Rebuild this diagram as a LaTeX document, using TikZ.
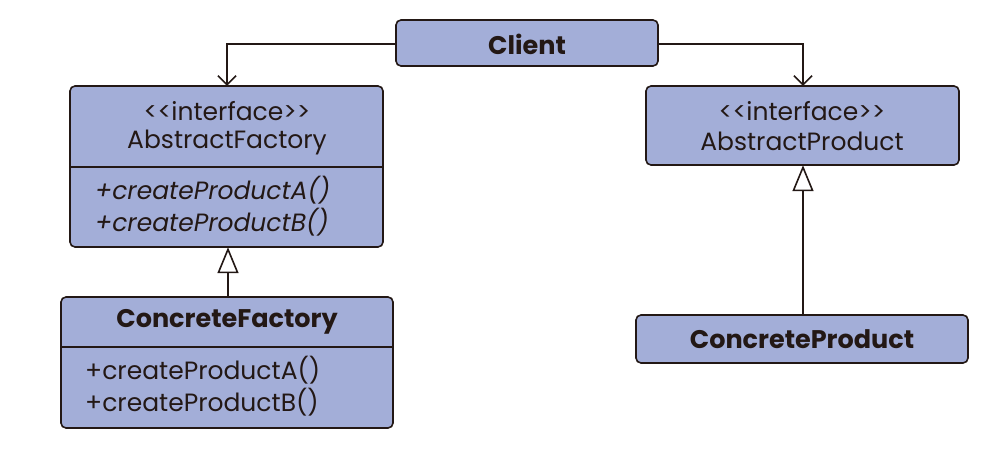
\documentclass[tikz,border=0pt]{standalone}
\usepackage{fontspec}
\setmainfont{Poppins}
\usetikzlibrary{arrows.meta}
\definecolor{boxfill}{HTML}{A3AED8}
\definecolor{ink}{HTML}{231815}
\newcommand{\guil}[1]{<\kern0pt<#1>\kern0pt>}
\begin{document}
\begin{tikzpicture}[x=1pt,y=-1pt,
  umlbox/.style={draw=ink,fill=boxfill,line width=1.6pt,rounded corners=5pt},
  txt/.style={inner sep=0pt,text=ink,font=\fontsize{25}{30}\selectfont},
  bold/.style={txt,font=\fontsize{25.5}{30}\selectfont\bfseries},
  meth/.style={txt,anchor=west},
  wire/.style={draw=ink,line width=1.6pt},
  uses/.style={wire,-{Straight Barb[length=9pt,width=18pt,line width=1.6pt]}},
  inherits/.style={wire,-{Triangle[open,length=26pt,width=21pt,line width=1.6pt,fill=white]}}]
\useasboundingbox (0,0) rectangle (1006,460);

% boxes
\draw[umlbox] (396,20) rectangle (658,66);
\node (client) at (527,43) [minimum width=262pt,minimum height=46pt,inner sep=0pt] {};
\node[bold] at (527,44) {Client};

\draw[umlbox] (70,86) rectangle (383,247);
\draw[draw=ink,line width=1.6pt] (70,167) -- (383,167);
\node (af) at (226.5,166.5) [minimum width=313pt,minimum height=161pt,inner sep=0pt] {};
\node[txt] at (227,111) {\guil{interface}};
\node[txt] at (227,142) {AbstractFactory};
\node[meth] at (95,190) {\itshape +createProductA()};
\node[meth] at (95,222) {\itshape +createProductB()};

\draw[umlbox] (646,86) rectangle (959,165);
\node (ap) at (802.5,125.5) [minimum width=313pt,minimum height=79pt,inner sep=0pt] {};
\node[txt] at (802,111) {\guil{interface}};
\node[txt] at (802,141) {AbstractProduct};

\draw[umlbox] (61,297) rectangle (393,428);
\draw[draw=ink,line width=1.6pt] (61,347) -- (393,347);
\node (cf) at (227,362.5) [minimum width=332pt,minimum height=131pt,inner sep=0pt] {};
\node[bold] at (227,322) {ConcreteFactory};
\node[meth] at (85,370) {+createProductA()};
\node[meth] at (85,402) {+createProductB()};

\draw[umlbox] (636,315) rectangle (968,363);
\node (cp) at (802,339) [minimum width=332pt,minimum height=48pt,inner sep=0pt] {};
\node[bold] at (802,339) {ConcreteProduct};

% associations from the client
\draw[uses] (client.west |- 0,44) -| (af.north -| 227,0);
\draw[uses] (client.east |- 0,44) -| (ap.north -| 803,0);

% generalisations
\draw[inherits] (cf.north -| 228,0) -- (af.south -| 228,0);
\draw[inherits] (cp.north -| 803,0) -- (ap.south -| 803,0);
\end{tikzpicture}
\end{document}
